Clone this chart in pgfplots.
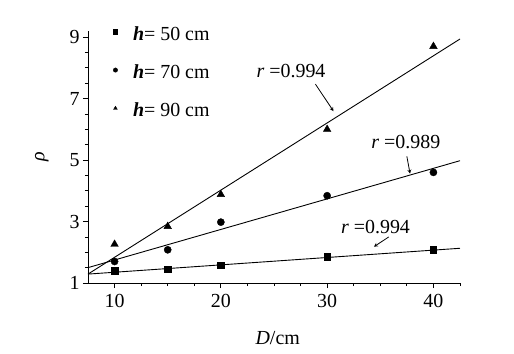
\documentclass[border=0pt]{standalone}
\usepackage{pgfplots}
\pgfplotsset{compat=1.18}
\usepackage{fontspec}
\setmainfont{Liberation Serif}
\begin{document}
\begin{tikzpicture}
\useasboundingbox (-88bp,-71bp) rectangle (426bp,283bp);
\begin{axis}[
  scale only axis, width=372bp, height=252bp,
  xmin=7.5, xmax=42.5, ymin=1, ymax=9.2,
  axis lines*=left,
  axis line style={line width=1pt},
  xtick={10,20,30,40}, ytick={1,3,5,7,9},
  minor xtick={12.5,15,...,42.5},
  minor ytick={1.5,2,...,9},
  tick align=outside,
  major tick length=5bp, minor tick length=3bp,
  every tick/.style={black, line width=0.8pt},
  /pgf/number format/assume math mode=true,
  tick label style={font=\fontsize{20}{23}\selectfont},
  xticklabel style={yshift=-3bp},
  xlabel={\fontsize{20}{23}\selectfont\textit{D}/cm},
  ylabel={\fontsize{20}{23}\selectfont\textit{ρ}},
  xlabel style={at={(rel axis cs:0.51,-0.218)}, anchor=center},
  ylabel style={at={(rel axis cs:-0.124,0.5)}, anchor=center},
  clip=false,
  legend style={at={(0.05,1.035)}, anchor=north west, draw=none, fill=none,
    font=\fontsize{20}{23}\selectfont, row sep=19bp, cells={anchor=west}},
  legend image code/.code={\path[draw=none] (0cm,0cm) -- (0.75cm,0cm);\draw[mark repeat=1,mark phase=1,#1,mark size=2.2pt] plot coordinates {(0.2cm,0.08cm)};},
]
\addplot[only marks, mark=square*, mark size=3.2pt] coordinates {(10,1.40) (15,1.45) (20,1.58) (30,1.85) (40,2.08)};
\addlegendentry{\textbf{\textit{h}}= 50 cm}
\addplot[only marks, mark=*, mark size=3.6pt] coordinates {(10,1.70) (15,2.08) (20,2.98) (30,3.84) (40,4.60)};
\addlegendentry{\textbf{\textit{h}}= 70 cm}
\addplot[only marks, mark=triangle*, mark size=4.4pt] coordinates {(10,2.26) (15,2.84) (20,3.88) (30,6.00) (40,8.70)};
\addlegendentry{\textbf{\textit{h}}= 90 cm}
\addplot[forget plot, line width=0.9pt] coordinates {(7.5,1.29) (42.5,2.13)};
\addplot[forget plot, line width=0.9pt] coordinates {(7.5,1.50) (42.5,4.98)};
\addplot[forget plot, line width=0.9pt] coordinates {(7.5,1.29) (42.5,8.94)};
\node[font=\fontsize{20}{23}\selectfont] at (axis cs:26.6,7.9) {\textit{r} =0.994};
\node[font=\fontsize{20}{23}\selectfont] at (axis cs:37.4,5.58) {\textit{r} =0.989};
\node[font=\fontsize{20}{23}\selectfont] at (axis cs:34.55,2.83) {\textit{r} =0.994};
\draw[-stealth, line width=0.8pt] (axis cs:28.9,7.47) -- (axis cs:30.6,6.59);
\draw[-stealth, line width=0.8pt] (axis cs:37.5,5.12) -- (axis cs:37.8,4.56);
\draw[-stealth, line width=0.8pt] (axis cs:35.8,2.50) -- (axis cs:34.4,2.18);
\end{axis}
\end{tikzpicture}
\end{document}
